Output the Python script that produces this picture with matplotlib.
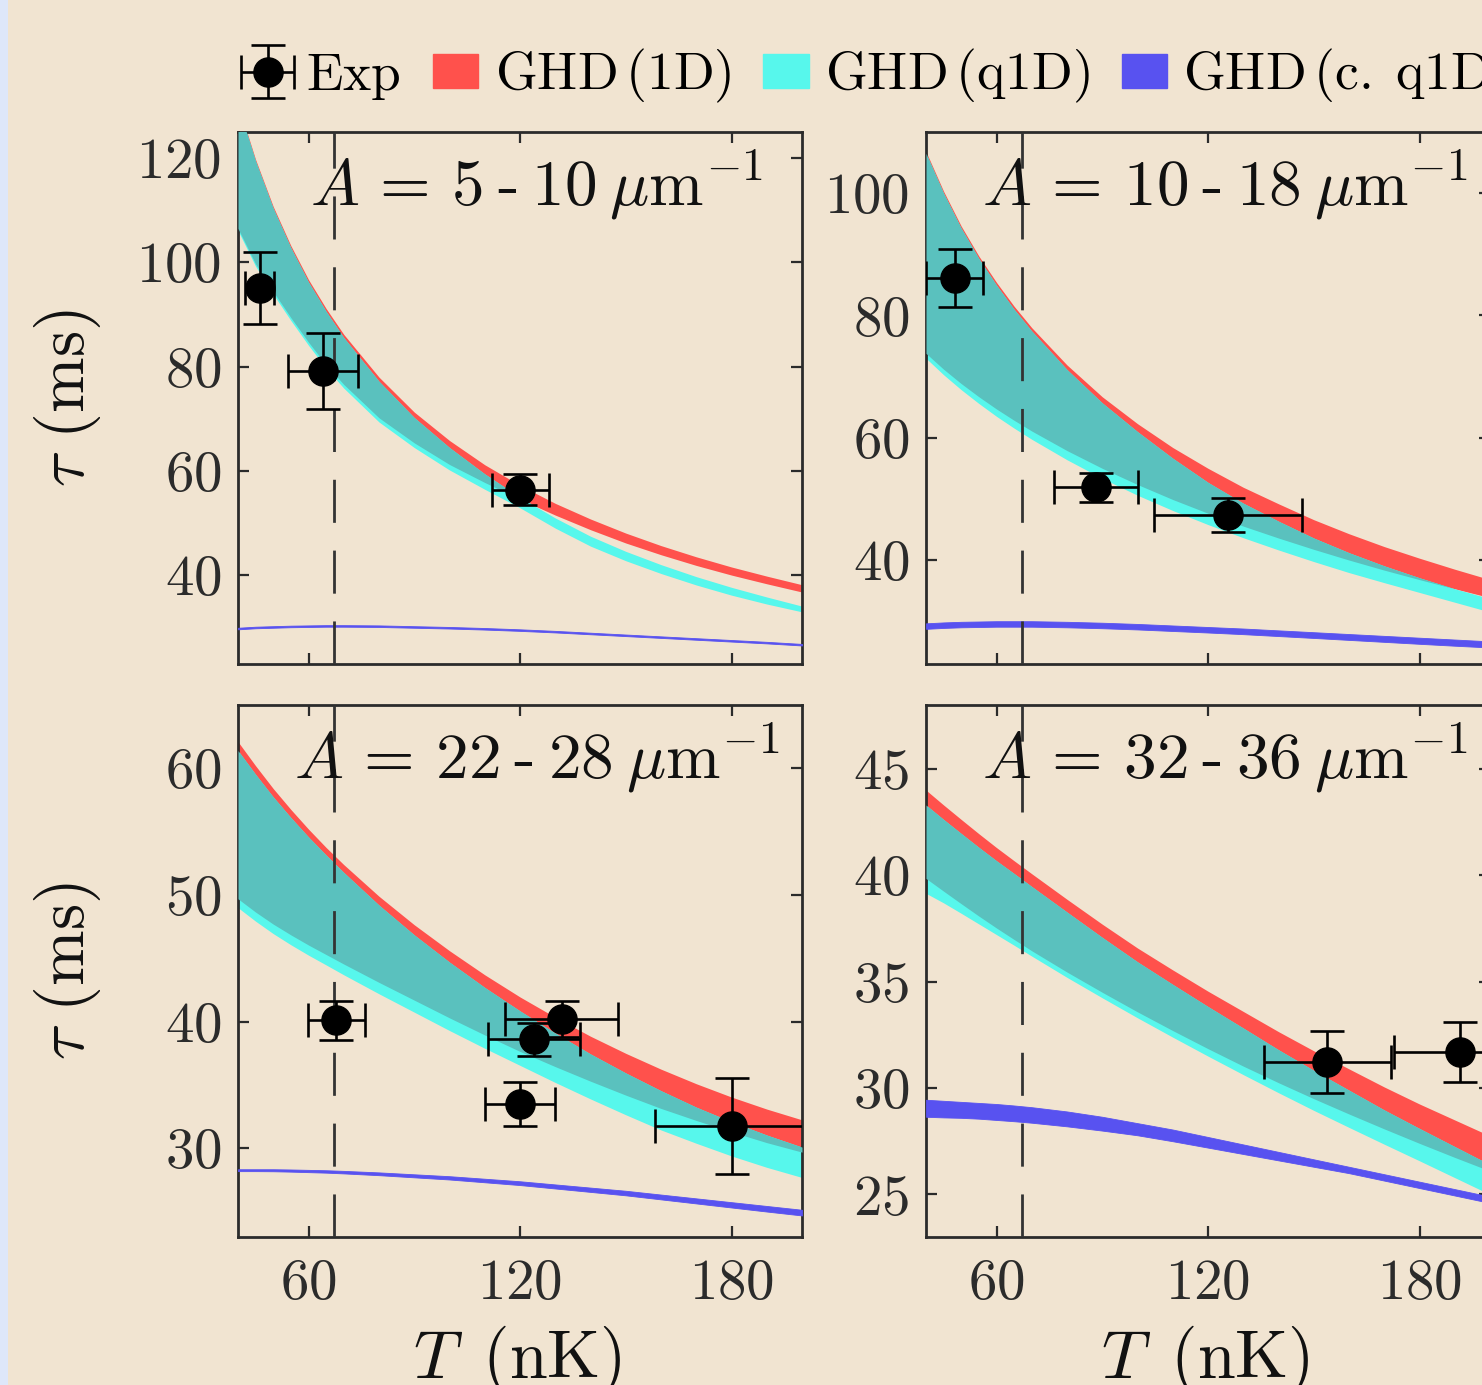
import numpy as np
import matplotlib
matplotlib.use("Agg")
import matplotlib.pyplot as plt
from matplotlib.patches import Patch, Rectangle

plt.rcParams['font.family'] = ['cmr10']
plt.rcParams['mathtext.fontset'] = 'cm'
plt.rcParams['axes.formatter.use_mathtext'] = True

# ---------------- data ----------------
T_grid = [40, 45, 50, 55, 60, 65, 70, 80, 90, 100, 110, 120, 130, 140, 150, 160, 170, 180, 190, 200]

titles = [r"$A\,=\,5\:\text{-}\:10\:\mu\mathrm{m}^{-1}$",
          r"$A\,=\,10\:\text{-}\:18\:\mu\mathrm{m}^{-1}$",
          r"$A\,=\,22\:\text{-}\:28\:\mu\mathrm{m}^{-1}$",
          r"$A\,=\,32\:\text{-}\:36\:\mu\mathrm{m}^{-1}$"]

# panel 1: A = 5-10
r_hi1 = [130.4, 119.7, 110.7, 103.2, 96.7, 91.15, 86.2, 78.0, 71.3, 65.85, 61.2, 57.25, 53.8, 50.8, 48.1, 45.7, 43.55, 41.6, 39.85, 38.2]
r_lo1 = [106.5, 99.7, 94.4, 89.4, 84.7, 80.35, 76.6, 70.2, 65.4, 61.25, 57.8, 54.6, 51.55, 48.75, 46.2, 43.95, 41.9, 40.05, 38.38, 36.8]
c_hi1 = [130.1, 119.37, 110.33, 102.78, 96.22, 90.6, 85.58, 77.2, 70.25, 64.5, 59.45, 54.95, 51.0, 47.5, 44.6, 42.05, 39.75, 37.7, 35.85, 34.1]
c_lo1 = [106.1, 99.25, 93.9, 88.85, 84.1, 79.7, 75.9, 69.4, 64.5, 60.2, 56.5, 52.95, 49.05, 45.6, 42.8, 40.35, 38.15, 36.2, 34.5, 33.0]
b_hi1 = [29.95, 30.15, 30.25, 30.35, 30.4, 30.45, 30.45, 30.4, 30.25, 30.1, 29.9, 29.65, 29.35, 29.0, 28.65, 28.3, 27.95, 27.6, 27.25, 26.85]
b_lo1 = [29.65, 29.85, 29.95, 30.05, 30.1, 30.15, 30.15, 30.1, 29.95, 29.8, 29.6, 29.35, 29.05, 28.7, 28.35, 28.0, 27.65, 27.3, 26.95, 26.55]

# panel 2: A = 10-18
r_hi2 = [106.8, 100.3, 94.6, 89.7, 85.4, 81.5, 78.0, 71.9, 66.7, 62.3, 58.4, 55.0, 51.9, 49.2, 46.6, 44.3, 42.2, 40.3, 38.5, 36.8]
r_lo2 = [73.8, 71.2, 68.85, 66.7, 64.7, 62.85, 61.1, 57.9, 55.0, 52.35, 49.9, 47.65, 45.55, 43.6, 41.75, 40.0, 38.35, 36.8, 35.3, 33.85]
c_hi2 = [106.5, 99.97, 94.24, 89.3, 84.95, 81.0, 77.45, 71.15, 65.7, 61.0, 56.65, 52.7, 49.3, 46.35, 43.6, 41.2, 39.05, 37.1, 35.3, 33.7]
c_lo2 = [73.0, 70.3, 67.85, 65.6, 63.5, 61.57, 59.75, 56.4, 53.35, 50.6, 48.1, 45.8, 43.65, 41.65, 39.75, 37.95, 36.3, 34.7, 33.1, 31.5]
b_hi2 = [29.65, 29.8, 29.9, 29.95, 30.0, 30.0, 30.0, 29.9, 29.75, 29.55, 29.3, 29.05, 28.8, 28.5, 28.2, 27.9, 27.6, 27.3, 27.0, 26.7]
b_lo2 = [28.75, 28.9, 29.0, 29.05, 29.1, 29.1, 29.1, 29.0, 28.85, 28.65, 28.4, 28.15, 27.88, 27.57, 27.26, 26.94, 26.62, 26.3, 25.99, 25.7]

# panel 3: A = 22-28
r_hi3 = [62.1, 60.2, 58.4, 56.75, 55.2, 53.75, 52.4, 49.9, 47.65, 45.6, 43.7, 41.95, 40.35, 38.85, 37.5, 36.25, 35.1, 34.05, 33.1, 32.25]
r_lo3 = [49.7, 48.65, 47.7, 46.85, 46.05, 45.3, 44.55, 43.1, 41.7, 40.3, 38.95, 37.65, 36.45, 35.3, 34.2, 33.15, 32.2, 31.3, 30.45, 29.7]
c_hi3 = [61.4, 59.52, 57.74, 56.11, 54.58, 53.15, 51.78, 49.2, 46.85, 44.7, 42.7, 40.85, 39.1, 37.45, 35.95, 34.55, 33.25, 32.1, 31.05, 30.1]
c_lo3 = [49.0, 47.93, 46.95, 46.07, 45.25, 44.48, 43.7, 42.2, 40.75, 39.3, 37.9, 36.55, 35.2, 33.9, 32.65, 31.45, 30.4, 29.4, 28.5, 27.7]
b_hi3 = [28.35, 28.35, 28.35, 28.33, 28.3, 28.27, 28.22, 28.1, 27.95, 27.8, 27.6, 27.4, 27.15, 26.9, 26.65, 26.35, 26.05, 25.75, 25.45, 25.15]
b_lo3 = [28.2, 28.2, 28.19, 28.16, 28.12, 28.08, 28.02, 27.88, 27.71, 27.54, 27.32, 27.1, 26.83, 26.56, 26.29, 25.97, 25.65, 25.33, 25.01, 24.7]

# panel 4: A = 32-36
r_hi4 = [44.0, 43.3, 42.62, 41.95, 41.3, 40.68, 40.07, 38.87, 37.7, 36.58, 35.55, 34.55, 33.6, 32.65, 31.75, 30.9, 30.05, 29.25, 28.5, 27.75]
r_lo4 = [39.85, 39.25, 38.66, 38.08, 37.52, 36.98, 36.45, 35.45, 34.5, 33.58, 32.7, 31.85, 31.03, 30.25, 29.5, 28.78, 28.08, 27.4, 26.74, 26.1]
c_hi4 = [43.3, 42.62, 41.96, 41.31, 40.68, 40.08, 39.47, 38.27, 37.08, 35.93, 34.87, 33.83, 32.82, 31.8, 30.83, 29.9, 28.97, 28.1, 27.25, 26.4]
c_lo4 = [39.15, 38.7, 38.21, 37.71, 37.21, 36.71, 36.2, 35.2, 34.24, 33.3, 32.39, 31.5, 30.63, 29.78, 28.95, 28.15, 27.36, 26.58, 25.79, 25.0]
b_hi4 = [29.45, 29.4, 29.35, 29.3, 29.25, 29.18, 29.1, 28.9, 28.65, 28.35, 28.05, 27.7, 27.35, 27.0, 26.65, 26.3, 25.95, 25.6, 25.25, 24.9]
b_lo4 = [28.65, 28.62, 28.6, 28.56, 28.5, 28.44, 28.37, 28.2, 28.0, 27.78, 27.5, 27.2, 26.9, 26.6, 26.3, 26.0, 25.65, 25.3, 24.95, 24.6]

# experimental points
exp_T1 = [46.1, 64.1, 120.1]
exp_tau1 = [95.0, 79.1, 56.4]
exp_dT1 = [4.15, 10.0, 8.0]
exp_dtau1 = [6.9, 7.3, 2.95]

exp_T2 = [48.1, 88.1, 125.8]
exp_tau2 = [86.1, 51.9, 47.4]
exp_dT2 = [8.0, 11.9, 21.0]
exp_dtau2 = [4.75, 2.35, 2.75]

exp_T3 = [67.9, 120.0, 123.9, 131.8, 180.0]
exp_tau3 = [40.1, 33.5, 38.6, 40.2, 31.75]
exp_dT3 = [8.0, 10.0, 13.0, 16.0, 21.7]
exp_dtau3 = [1.55, 1.7, 1.3, 1.4, 3.8]

exp_T4 = [153.9, 191.6]
exp_tau4 = [31.24, 31.71]
exp_dT4 = [17.9, 18.9]
exp_dtau4 = [1.46, 1.41]

T_dashed = 67.3
ylims = [(23, 125), (23, 110), (23, 65), (23, 48)]
yticks = [[40, 60, 80, 100, 120], [40, 60, 80, 100], [30, 40, 50, 60], [25, 30, 35, 40, 45]]
xticks = [60, 120, 180]
legend_labels = [r"$\mathrm{Exp}$", r"$\mathrm{GHD}\,(\mathrm{1D})$",
                 r"$\mathrm{GHD}\,(\mathrm{c.}\,\mathrm{q1D})$"]
legend_labels = [r"$\mathrm{Exp}$", r"$\mathrm{GHD}\,(\mathrm{1D})$",
                 r"$\mathrm{GHD}\,(\mathrm{q1D})$", r"$\mathrm{GHD}\,(\mathrm{c.}\;\mathrm{q1D})$"]

# ---------------- style ----------------
BG = '#F1E4D1'
RED = '#FF514C'
CYAN = '#57F7EC'
TEAL = '#5AC1BE'
BLUE = '#5852F0'
FRAME = '#2B2B2B'

W, H = 1482, 1385
fig = plt.figure(figsize=(W / 100, H / 100), dpi=100)
fig.patch.set_facecolor(BG)
fig.patches.append(Rectangle((0, 0), 8 / W, 1, transform=fig.transFigure,
                             facecolor='#DEE7FA', edgecolor='none', zorder=0))

aw, ah = 564 / W, 532 / H
positions = [(238 / W, 1 - 664 / H), (926 / W, 1 - 664 / H),
             (238 / W, 1 - 1237 / H), (926 / W, 1 - 1237 / H)]

panels = [
    (r_hi1, r_lo1, c_hi1, c_lo1, b_hi1, b_lo1, exp_T1, exp_tau1, exp_dT1, exp_dtau1),
    (r_hi2, r_lo2, c_hi2, c_lo2, b_hi2, b_lo2, exp_T2, exp_tau2, exp_dT2, exp_dtau2),
    (r_hi3, r_lo3, c_hi3, c_lo3, b_hi3, b_lo3, exp_T3, exp_tau3, exp_dT3, exp_dtau3),
    (r_hi4, r_lo4, c_hi4, c_lo4, b_hi4, b_lo4, exp_T4, exp_tau4, exp_dT4, exp_dtau4),
]

T = np.array(T_grid, dtype=float)
err_handle = None
for i, (pos, pdata) in enumerate(zip(positions, panels)):
    rh, rl, ch, cl, bh, bl, eT, etau, edT, edtau = [np.asarray(a, dtype=float) for a in pdata]
    ax = fig.add_axes([pos[0], pos[1], aw, ah])
    ax.set_facecolor(BG)
    ax.fill_between(T, rl, rh, color=RED, lw=0, zorder=1)
    ax.fill_between(T, cl, ch, color=CYAN, lw=0, zorder=2)
    top = np.minimum(rh, ch)
    bot = np.maximum(rl, cl)
    ax.fill_between(T, bot, top, where=top > bot, interpolate=True, color=TEAL, lw=0, zorder=3)
    ax.fill_between(T, bl, bh, color=BLUE, lw=0.6, edgecolor=BLUE, zorder=3)
    ax.axvline(T_dashed, color='#333333', lw=2.0, dashes=(15.5, 10), zorder=4)
    eb = ax.errorbar(eT, etau, xerr=edT, yerr=edtau, fmt='o', color='k', ms=21,
                     elinewidth=1.9, capsize=12.5, capthick=1.9, zorder=6)
    if err_handle is None:
        err_handle = eb
    ax.set_xlim(40, 200)
    ax.set_ylim(*ylims[i])
    ax.set_xticks(xticks)
    ax.set_yticks(yticks[i])
    ax.tick_params(direction='in', length=8, width=1.6, top=True, right=True,
                   labelsize=41, colors=FRAME, pad=12)
    ax.tick_params(axis='x', pad=16)
    for s in ax.spines.values():
        s.set_linewidth(2.0)
        s.set_color(FRAME)
    if i < 2:
        ax.tick_params(labelbottom=False)
    else:
        ax.set_xlabel(r"$T\ \,(\mathrm{nK})$", fontsize=49, color='#111111')
        ax.xaxis.set_label_coords(0.495, -0.163)
    if i % 2 == 0:
        ax.set_ylabel(r"$\tau\ (\mathrm{ms})$", fontsize=48, color='#111111')
        ax.yaxis.set_label_coords(-0.24, 0.5)
    ax.text(0.53, 0.862, titles[i], transform=ax.transAxes, ha='center',
            va='baseline', fontsize=47, color='#111111', zorder=7)

handles = [err_handle, Patch(color=RED), Patch(color=CYAN), Patch(color=BLUE)]
fig.legend(handles, legend_labels, loc='center left', bbox_to_anchor=(0.1653, 0.945),
           ncol=4, frameon=False, fontsize=38.5, handlelength=0.85, handleheight=0.6,
           handletextpad=0.3, columnspacing=0.6, borderpad=0, borderaxespad=0)

fig.savefig("out.png", dpi=100, facecolor=BG)
